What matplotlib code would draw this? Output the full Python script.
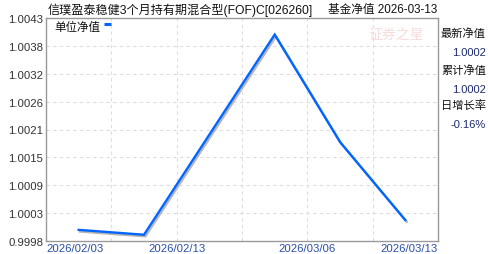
import matplotlib
matplotlib.use("Agg")
import matplotlib.pyplot as plt
import matplotlib.patheffects as pe
import numpy as np

plt.rcParams['font.family'] = ['Liberation Sans', 'Noto Sans CJK SC', 'DejaVu Sans']

# ---- data ----
slots = [0, 1, 3, 4, 5]                      # category slot of each NAV point
nav = [1.0000, 0.9999, 1.0040, 1.0018, 1.0002]
n_slots = 6
x_tick_labels = ["2026/02/03", "2026/02/13", "2026/03/06", "2026/03/13"]
x_tick_pos = [0, 2, 4, 6]
y_min, y_max = 0.999772, 1.00434
y_tick_labels = ["0.9998", "1.0003", "1.0009", "1.0015", "1.0021",
                 "1.0026", "1.0032", "1.0038", "1.0043"]
title_main = "信璞盈泰稳健3个月持有期混合型(FOF)C[026260]"
title_tail = "基金净值 2026-03-13"
legend_label = "单位净值"
side_labels = ["最新净值", "1.0002", "累计净值", "1.0002", "日增长率", "-0.16%"]

W, H = 488, 255
fig = plt.figure(figsize=(W / 100, H / 100), dpi=100)
fig.patch.set_facecolor("white")
ax = fig.add_axes([46 / W, 1 - 242 / H, (438 - 46) / W, (242 - 19) / H])

xs = [s + 0.5 for s in slots]
ax.plot(xs, nav, color="#0066ff", lw=1.7, solid_joinstyle="miter",
        path_effects=[pe.SimpleLineShadow(offset=(1.0, -1.2), shadow_color="#b0b0b0", alpha=0.9),
                      pe.Normal()], zorder=3)

ax.set_xlim(0, n_slots)
ax.set_ylim(y_min, y_max)

yt = np.linspace(y_min, y_max, len(y_tick_labels))
ax.set_yticks(yt)
ax.set_yticklabels(y_tick_labels, fontsize=8.2, color="#333333")
ax.set_xticks(x_tick_pos)
xl = ax.set_xticklabels(x_tick_labels, fontsize=8.2, color="#2b4ea8")
xl[0].set_ha("left")
xl[-1].set_ha("right")
xl[0].set_x(-0.03)
ax.tick_params(axis="both", length=0)
ax.tick_params(axis="y", pad=2)
ax.tick_params(axis="x", pad=1.5)

for v in yt[1:-1]:
    ax.axhline(v, color="#dddddd", lw=0.8, ls=(0, (3, 3)), zorder=1)
for v in range(1, n_slots):
    ax.axvline(v, color="#dddddd", lw=0.8, ls=(0, (3, 3)), zorder=1)

for sp in ax.spines.values():
    sp.set_color("#999999")
    sp.set_linewidth(1.0)

# legend
ax.text(8 / 392, 1 - 9 / 223, legend_label, transform=ax.transAxes, fontsize=8.3,
        color="#111111", va="center", ha="left")
ax.plot([58 / 392, 65 / 392], [1 - 6 / 223, 1 - 6 / 223], transform=ax.transAxes,
        color="#0066ff", lw=2.2, solid_capstyle="butt", clip_on=False)

# watermark
fig.text(396 / W, 1 - 36 / H, "证券之星", fontsize=10, color="#f6c4c4", alpha=0.6,
         ha="center", va="center", style="italic")

# title
fig.text(48 / W, 1 - 10 / H, title_main, fontsize=8.7, color="#111111",
         ha="left", va="center")
fig.text(437 / W, 1 - 10 / H, title_tail, fontsize=8.4, color="#111111",
         ha="right", va="center")

# side panel
side_y = [34, 53, 71, 90, 106, 125]
for i, (lab, yy) in enumerate(zip(side_labels, side_y)):
    if i % 2 == 0:
        fig.text(441 / W, 1 - yy / H, lab, fontsize=8.1, color="#111111",
                 ha="left", va="center")
    else:
        fig.text(486 / W, 1 - yy / H, lab, fontsize=8.0, color="#1c2a6e",
                 ha="right", va="center")

fig.savefig("out.png", dpi=100)
